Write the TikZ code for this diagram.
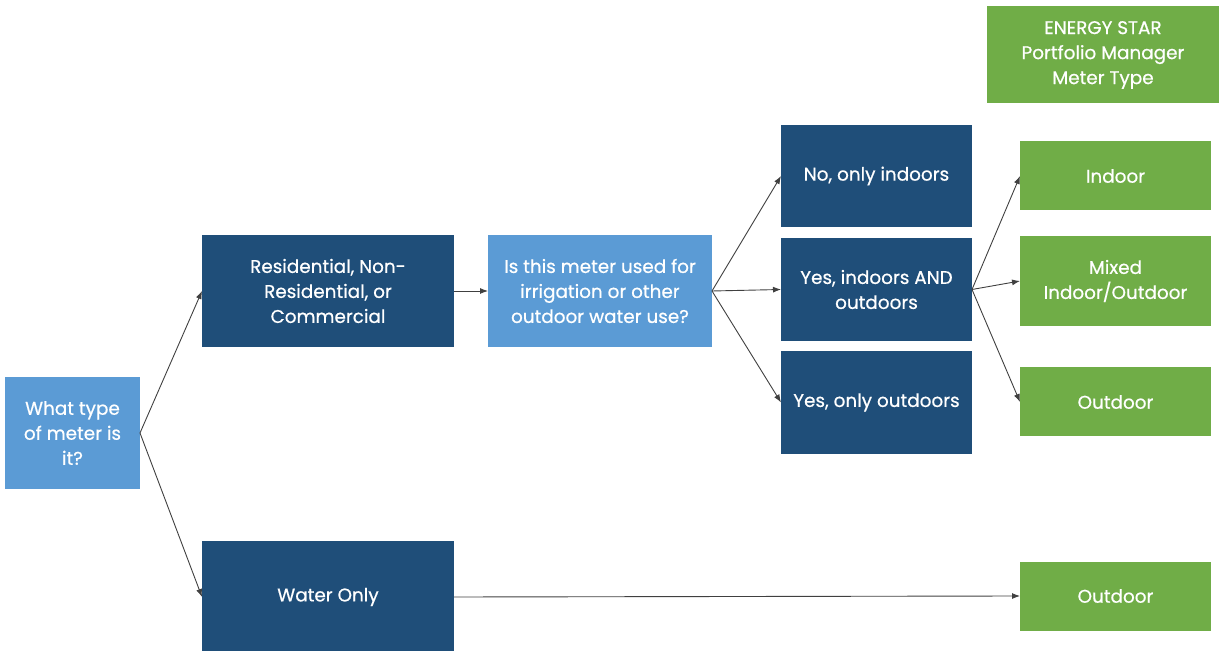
\documentclass[tikz,border=0pt]{standalone}
\usepackage{fontspec}
\setmainfont{Poppins}
\newfontfamily\boxfont{Poppins}[FakeBold=0.6]
\usetikzlibrary{arrows.meta}
\definecolor{darkblue}{HTML}{1F4E79}
\definecolor{lightblue}{HTML}{5B9BD5}
\definecolor{metergreen}{HTML}{70AD47}

\begin{document}
\begin{tikzpicture}[x=0.5pt, y=-0.5pt,
	box/.style={rectangle, text=white, align=center, inner sep=0pt, outer sep=0pt, font=\boxfont\fontsize{9.2}{12.5}\selectfont},
	question/.style={box, fill=lightblue},
	answer/.style={box, fill=darkblue},
	result/.style={box, fill=metergreen},
	link/.style={-{Latex[length=4pt,width=3pt]}, draw=black!75, line width=0.45pt}]
		\useasboundingbox (0,0) rectangle (1225,651);
		\node[question, minimum width=67.5pt, minimum height=56pt] at (72.5,433) (type) {What type\\of meter is\\it?};
		\node[answer, minimum width=126pt, minimum height=56pt] at (328,291) (res) {Residential, Non-\\Residential, or\\Commercial};
		\node[answer, minimum width=126pt, minimum height=56pt] at (328,597) (water) {Water Only};
		\node[question, minimum width=112pt, minimum height=56pt] at (600,291) (irr) {Is this meter used for\\irrigation or other\\outdoor water use?};
		\node[answer, minimum width=95.5pt, minimum height=51pt] at (876.5,176) (no) {No, only indoors};
		\node[answer, minimum width=95.5pt, minimum height=51.5pt] at (876.5,289.5) (both) {Yes, indoors AND\\outdoors};
		\node[answer, minimum width=95.5pt, minimum height=51.5pt] at (876.5,402.5) (yesout) {Yes, only outdoors};
		\node[result, minimum width=116pt, minimum height=48.5pt] at (1103,55) (head) {ENERGY STAR\\Portfolio Manager\\Meter Type};
		\node[result, minimum width=95.5pt, minimum height=34.5pt] at (1115.5,176) (indoor) {Indoor};
		\node[result, minimum width=95.5pt, minimum height=45pt] at (1115.5,281) (mixed) {Mixed\\Indoor/Outdoor};
		\node[result, minimum width=95.5pt, minimum height=34.5pt] at (1115.5,402) (outdoor) {Outdoor};
		\node[result, minimum width=95.5pt, minimum height=34.5pt] at (1115.5,596) (wateroutdoor) {Outdoor};
		\draw[link] (type.east)--(res.west);
		\draw[link] (type.east)--(water.west);
		\draw[link] (res.east)--(irr.west);
		\draw[link] (irr.east)--(no.west);
		\draw[link] (irr.east)--(both.west);
		\draw[link] (irr.east)--(yesout.west);
		\draw[link] (both.east)--(indoor.west);
		\draw[link] (both.east)--(mixed.west);
		\draw[link] (both.east)--(outdoor.west);
		\draw[link] (water.east)--(wateroutdoor.west);
	\end{tikzpicture}
\end{document}
